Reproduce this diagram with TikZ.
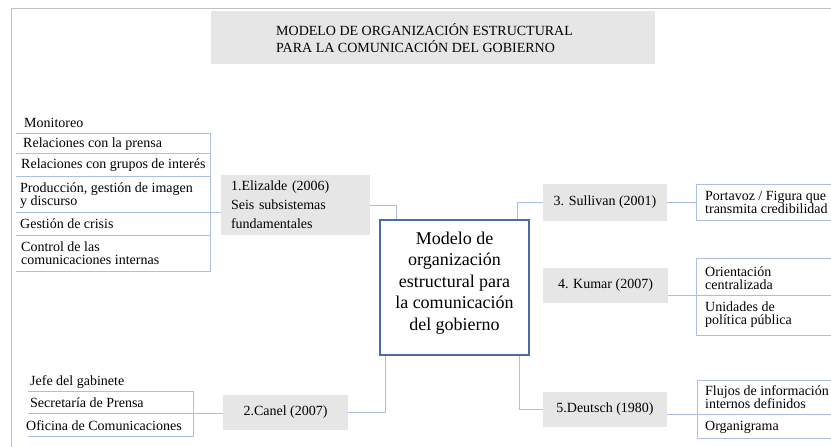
\documentclass[tikz,border=0pt]{standalone}
\usepackage{fontspec}
\setmainfont{Liberation Serif}
\usetikzlibrary{calc}
\definecolor{lineblue}{HTML}{A9BFE6}
\definecolor{boxblue}{HTML}{4A6CA8}
\definecolor{boxgray}{HTML}{E6E6E6}
\definecolor{framegray}{HTML}{C0C0C0}
\tikzset{
  greybox/.style={fill=boxgray, draw=none, inner sep=0pt, font=\fontsize{14}{19}\selectfont},
  item/.style={anchor=west, inner sep=0pt, align=left, font=\fontsize{14}{13}\selectfont},
  link/.style={draw=lineblue, line width=0.9pt},
}
\begin{document}
\begin{tikzpicture}[x=1pt,y=-1pt]
\useasboundingbox (0,0) rectangle (831,447);
% frame
\draw[framegray, line width=0.9pt] (11,447) -- (11,8) -- (831,8);
% title
\node[greybox, minimum width=444pt, minimum height=53pt] (title) at (433,37) {};
\node[anchor=west, inner sep=0pt, align=left, font=\fontsize{14}{17}\selectfont] (titletext) at (276,38)
  {MODELO DE ORGANIZACIÓN ESTRUCTURAL\\PARA LA COMUNICACIÓN DEL GOBIERNO};
% central
\node[draw=boxblue, line width=1.2pt, fill=white, minimum width=149pt, minimum height=135pt,
      inner sep=0pt] (central) at (454.5,287.5) {};
\node[inner sep=0pt, align=center, font=\fontsize{18}{21.5}\selectfont] (centraltext) at (454.5,283)
  {Modelo de\\organización\\estructural para\\la comunicación\\del gobierno};
% boxes
\node[greybox, minimum width=149pt, minimum height=60pt, text width=129pt, align=left] (eliz) at (295.5,205)
  {1.Elizalde (2006)\\Seis subsistemas\\fundamentales};
\node[greybox, minimum width=125pt, minimum height=35pt] (canel) at (285.5,412.5) {2.Canel (2007)};
\node[greybox, minimum width=124pt, minimum height=37pt] (sull) at (605,202.5) {3. Sullivan (2001)};
\node[greybox, minimum width=125pt, minimum height=35pt] (kumar) at (605.5,285.5) {4. Kumar (2007)};
\node[greybox, minimum width=124pt, minimum height=35pt] (deut) at (605,409.5) {5.Deutsch (1980)};
% connectors to central
\draw[link] (eliz.east) -| ($(central.north west)+(17,0)$);
\draw[link] ($(central.north east)+(-12,0)$) |- (sull.west);
\draw[link] (canel.east) -| ($(central.south west)+(6,0)$);
\draw[link] ($(central.south east)+(-10,0)$) |- (deut.west);
% Elizalde list
\coordinate (e1) at (210,212);
\draw[link] (16,133) -- (210,133) -- (210,271) -- (16,271);
\draw[link] (16,153) -- (210,153);
\draw[link] (16,176) -- (210,176);
\draw[link] (16,235) -- (210,235);
\draw[link] (16,212) -- (eliz.west |- e1);
\node[item] (m1) at (24,123) {Monitoreo};
\node[item] (m2) at (23,144) {Relaciones con la prensa};
\node[item] (m3) at (21,165) {Relaciones con grupos de interés};
\node[item] (m4) at (20,196) {Producción, gestión de imagen\\y discurso};
\node[item] (m5) at (20,224) {Gestión de crisis};
\node[item] (m6) at (21,253) {Control de las\\comunicaciones internas};
% Canel list
\coordinate (c1) at (193,413);
\draw[link] (28,391) -- (193,391) -- (193,436) -- (28,436);
\draw[link] (28,413) -- (canel.west |- c1);
\node[item] (j1) at (30,382) {Jefe del gabinete};
\node[item] (j2) at (30,403) {Secretaría de Prensa};
\node[item] (j3) at (26,426) {Oficina de Comunicaciones};
% Sullivan list
\draw[link] (831,184) -- (696,184) -- (696,220) -- (831,220);
\coordinate (s1) at (696,202.5);
\draw[link] (sull.east) -- (s1);
\node[item] (p1) at (705,202) {Portavoz / Figura que\\transmita credibilidad};
% Kumar list
\coordinate (k1) at (831,295);
\draw[link] (831,258) -- (696,258) -- (696,335) -- (831,335);
\draw[link] (kumar.east |- k1) -- (k1);
\node[item] (o1) at (705,278) {Orientación\\centralizada};
\node[item] (o2) at (705,315) {Unidades de\\política pública};
% Deutsch list
\coordinate (d1) at (831,414);
\draw[link] (831,380) -- (697,380) -- (697,438) -- (831,438);
\draw[link] (deut.east |- d1) -- (d1);
\node[item] (f1) at (705,397) {Flujos de información\\internos definidos};
\node[item] (f2) at (705,427) {Organigrama};
\end{tikzpicture}
\end{document}
